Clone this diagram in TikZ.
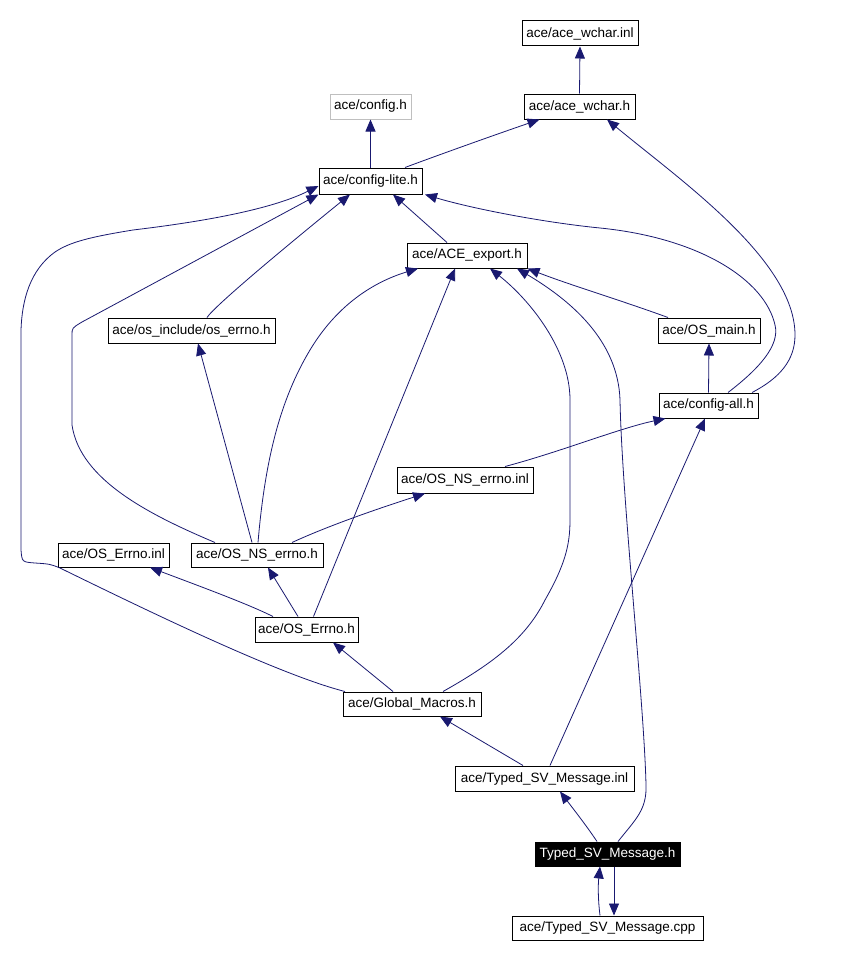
\documentclass[tikz,border=0pt]{standalone}
\usepackage{fontspec}
\setmainfont{Liberation Sans}
\usetikzlibrary{arrows.meta}
\definecolor{edgeblue}{RGB}{25,25,112}
\definecolor{graybox}{RGB}{191,191,191}
\begin{document}
\begin{tikzpicture}[x=1pt,y=-1pt,
 file/.style={draw=black,line width=1pt,inner sep=0pt,minimum height=25pt,font=\fontsize{13.5}{16}\selectfont,text=black},
 ghost/.style={file,draw=graybox},
 current/.style={file,fill=black,text=white},
 edge/.style={draw=edgeblue,line width=0.8pt,-{Triangle[length=12pt,width=10pt]}}]
\useasboundingbox[fill=white] (0,0) rectangle (867,958);

\node[file,minimum width=116pt] (wci) at (580,33.5) {ace/ace\_wchar.inl};
\node[file,minimum width=111pt] (wch) at (579.5,106.5) {ace/ace\_wchar.h};
\node[ghost,minimum width=81pt] (cfg) at (370.5,106.5) {ace/config.h};
\node[file,minimum width=103pt,minimum height=26pt] (cl) at (370.5,181) {ace/config-lite.h};
\node[file,minimum width=120pt] (ae) at (467,255.5) {ace/ACE\_export.h};
\node[file,minimum width=167pt] (ose) at (191.5,330.5) {ace/os\_include/os\_errno.h};
\node[file,minimum width=102pt] (om) at (709,330.5) {ace/OS\_main.h};
\node[file,minimum width=99pt] (ca) at (708.5,405.5) {ace/config-all.h};
\node[file,minimum width=136pt,minimum height=26pt] (nsi) at (465,480) {ace/OS\_NS\_errno.inl};
\node[file,minimum width=111pt,minimum height=24pt] (ei) at (113.5,555) {ace/OS\_Errno.inl};
\node[file,minimum width=132pt,minimum height=24pt] (nsh) at (257,555) {ace/OS\_NS\_errno.h};
\node[file,minimum width=103pt] (eh) at (306.5,629.5) {ace/OS\_Errno.h};
\node[file,minimum width=138pt,minimum height=24pt] (gm) at (412,704) {ace/Global\_Macros.h};
\node[file,minimum width=179pt] (tsi) at (544.5,778.5) {ace/Typed\_SV\_Message.inl};
\node[current,minimum width=145pt,minimum height=24pt] (tsh) at (607.5,854) {Typed\_SV\_Message.h};
\node[file,minimum width=191pt,minimum height=24pt] (tsc) at (607.5,928) {ace/Typed\_SV\_Message.cpp};

\draw[edge] (wch.north) -- (wci.south);
\draw[edge] (cl.north) -- (cfg.south);
\draw[edge] ([xshift=34.5pt]cl.north) .. controls (425,160) and (480,140) .. ([xshift=-40pt]wch.south);
\draw[edge] ([xshift=43.5pt]ca.north) .. controls (780,378) and (795,360) .. (795,335) .. controls (795,260) and (680,180) .. ([xshift=27.5pt]wch.south);
\draw[edge] ([xshift=19.5pt]ca.north) .. controls (760,368) and (780,345) .. (775,325) .. controls (765,280) and (700,238) .. (600,228) .. controls (540,222) and (470,208) .. ([xshift=54.5pt]cl.south);
\draw[edge] ([xshift=-20pt]ae.north) -- ([xshift=22.5pt]cl.south);
\draw[edge] ([xshift=15.5pt]ose.north) .. controls (215,305) and (300,235) .. ([xshift=-20.5pt]cl.south);
\draw[edge] ([xshift=-42pt]nsh.north) .. controls (150,515) and (80,480) .. (72,425) -- (72,335) .. controls (72,328) .. (82,322) -- (cl.south west);
\draw[edge] ([xshift=-67pt]gm.north) .. controls (280,675) and (150,612) .. (60,568) .. controls (50,564) .. (35,563) .. controls (22,562) .. (21,550) -- (21,330) .. controls (22,300) and (30,270) .. (55,252) .. controls (70,242) and (90,237) .. (133,230) .. controls (200,222) and (270,210) .. ([yshift=-5pt]cl.west);
\draw[edge] ([xshift=1pt]nsh.north) .. controls (265,460) and (280,400) .. (310,350) .. controls (340,300) and (380,280) .. ([xshift=-49pt]ae.south);
\draw[edge] ([xshift=7pt]eh.north) -- ([xshift=-12pt]ae.south);
\draw[edge] ([xshift=31pt]gm.north) .. controls (490,665) and (525,640) .. (545,600) .. controls (565,565) and (570,545) .. (570,520) -- (570,400) .. controls (570,350) and (530,300) .. ([xshift=23pt]ae.south);
\draw[edge] ([xshift=10.5pt]tsh.north) .. controls (635,820) and (647,810) .. (646,785) .. controls (644,700) and (622,500) .. (620,400) .. controls (618,340) and (570,300) .. ([xshift=50pt]ae.south);
\draw[edge] ([xshift=-41pt]om.north) .. controls (620,300) and (570,285) .. (ae.south east);
\draw[edge] (ca.north) -- (om.south);
\draw[edge] ([xshift=40pt]nsi.north) .. controls (560,452) and (620,428) .. ([xshift=-43pt]ca.south);
\draw[edge] ([xshift=5.5pt]tsi.north) -- ([xshift=-3.5pt]ca.south);
\draw[edge] ([xshift=-5pt]nsh.north) -- ([xshift=6.5pt]ose.south);
\draw[edge] ([xshift=35pt]nsh.north) .. controls (330,525) and (380,508) .. ([xshift=-40pt]nsi.south);
\draw[edge] ([xshift=-33.5pt]eh.north) .. controls (250,605) and (210,590) .. ([xshift=36.5pt]ei.south);
\draw[edge] ([xshift=-8.5pt]eh.north) -- ([xshift=11pt]nsh.south);
\draw[edge] ([xshift=-19pt]gm.north) -- ([xshift=26.5pt]eh.south);
\draw[edge] ([xshift=-21.5pt]tsi.north) -- ([xshift=28pt]gm.south);
\draw[edge] ([xshift=-10.5pt]tsh.north) .. controls (588,828) and (578,815) .. ([xshift=15.5pt]tsi.south);
\draw[edge] ([xshift=-7.5pt]tsc.north) .. controls (598,900) and (598,885) .. ([xshift=-7.5pt]tsh.south);
\draw[edge] ([xshift=6.5pt]tsh.south) -- ([xshift=6.5pt]tsc.north);
\end{tikzpicture}
\end{document}
